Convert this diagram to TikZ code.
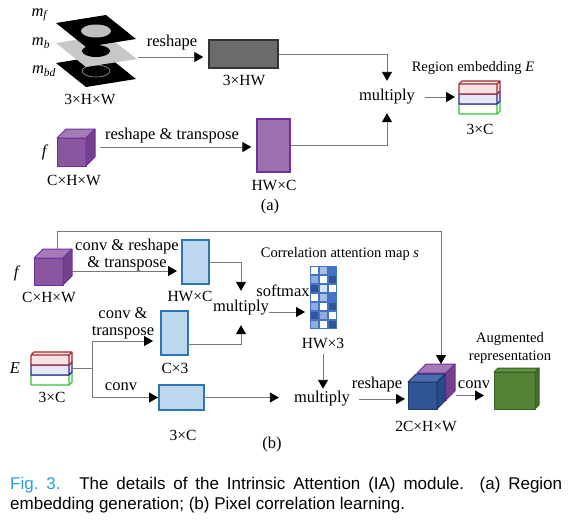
\documentclass[tikz,border=0pt]{standalone}
\usepackage{fontspec}
\setmainfont{Liberation Serif}
\newfontfamily\capfont{Liberation Sans}
\usetikzlibrary{arrows.meta,calc}
\definecolor{lnc}{HTML}{7A7A7A}
\definecolor{capblue}{HTML}{2AA0DF}
\definecolor{pF}{HTML}{8B56A0}\definecolor{pT}{HTML}{A47BB5}\definecolor{pS}{HTML}{74418A}\definecolor{pB}{HTML}{7030A0}
\definecolor{bF}{HTML}{2F5597}\definecolor{bT}{HTML}{4A6DB0}\definecolor{bS}{HTML}{284A85}\definecolor{bB}{HTML}{1F3864}
\definecolor{gF}{HTML}{548235}\definecolor{gT}{HTML}{5E9140}\definecolor{gS}{HTML}{456E2B}\definecolor{gB}{HTML}{3A5F22}
\definecolor{lbF}{HTML}{BDD7EE}\definecolor{lbB}{HTML}{2E75B6}
\definecolor{cW}{HTML}{FFFFFF}\definecolor{cL}{HTML}{DAE3F3}\definecolor{cK}{HTML}{A9BFE6}
\definecolor{cM}{HTML}{8FAADC}\definecolor{cB}{HTML}{4472C4}\definecolor{cD}{HTML}{2F5597}
\definecolor{eR}{HTML}{A5282C}\definecolor{eRf}{HTML}{F6E4E4}
\definecolor{eB}{HTML}{2A2A9E}\definecolor{eBf}{HTML}{E6E6F6}
\definecolor{eG}{HTML}{33C433}
\newcommand\mycube[9]{%
  \filldraw[fill=#6,draw=#9,line width=1pt,line join=round] (#1,#2) rectangle ++(#3,#4);
  \filldraw[fill=#7,draw=#9,line width=1pt,line join=round] (#1,#2) -- ++(#5,-#5) -- ++(#3,0) -- ++(-#5,#5) -- cycle;
  \filldraw[fill=#8,draw=#9,line width=1pt,line join=round] (#1+#3,#2) -- ++(#5,-#5) -- ++(0,#4) -- ++(-#5,#5) -- cycle;}
\newcommand\ebox[5]{%
  \filldraw[fill=#4,draw=#5,line width=1.2pt,line join=round] (#1,#2) -- ++(#3,-#3) -- ++(38,0) -- ++(0,10) -- ++(-#3,#3) -- ++(-38,0) -- cycle;
  \draw[#5,line width=1.2pt,line join=round] (#1,#2) -- ++(38,0) -- ++(0,10) (#1+38,#2) -- ++(#3,-#3);}
\newcommand\ebars[2]{%
  \ebox{#1}{#2+20}{3}{white}{eG}
  \ebox{#1}{#2+10}{3}{eBf}{eB}
  \ebox{#1}{#2}{3}{eRf}{eR}}
\tikzset{
  conn/.style={draw=lnc,line width=0.9pt,-{Triangle[length=9pt,width=10pt,color=black]}},
  plain/.style={draw=lnc,line width=0.9pt},
  op/.style={font=\fontsize{16.5}{17}\selectfont,inner sep=0pt,align=center},
  dim/.style={font=\fontsize{15.5}{17}\selectfont,inner sep=0pt},
  ttl/.style={font=\fontsize{14.5}{18}\selectfont,inner sep=0pt,align=center},
  hole/.style={inner sep=0pt,outer sep=0pt},
  lbbox/.style={draw=lbB,fill=lbF,line width=1.3pt,inner sep=0pt,outer sep=0pt},
}
\begin{document}
\begin{tikzpicture}[x=1pt,y=-1pt]
\useasboundingbox (0,0) rectangle (576,523);
\fill[white] (0,0) rectangle (576,523);

% ---------------- (a) ----------------
% masks
\fill[black] (56,63) -- (106,55) -- (136,79) -- (86,87) -- cycle;
\draw[gray!75,line width=0.6pt] (96,71) ellipse (14 and 6);
\fill[black!22] (56,43) -- (106,35) -- (137,59) -- (86,67) -- cycle;
\fill[black] (96,51) ellipse (14 and 6);
\fill[black] (56,23) -- (106,15) -- (136,39) -- (86,47) -- cycle;
\fill[black!25] (96,31) ellipse (15 and 6.5);
\node[op] at (40,15) {\textit{m}\textsubscript{\textit{f}}};
\node[op] at (41,43) {\textit{m}\textsubscript{\textit{b}}};
\node[op] at (44,71) {\textit{m}\textsubscript{\textit{bd}}};
\node[dim] at (90,99) {3×H×W};
\coordinate (mk) at (138,57);

\node[draw=black!80,fill=black!58,line width=1.5pt,inner sep=0pt,minimum width=69pt,minimum height=28pt] (hw) at (243.5,54) {};
\node[dim] at (244,80) {3×HW};
\node[op] at (172,43) {reshape};
\draw[conn,shorten >=5pt] (mk) -- (mk -| hw.west);

\node[op,minimum height=32pt] (mula) at (387,97) {multiply};
\draw[conn] (hw.east) -| (mula.south |- mula.north);

\node[hole,minimum width=38pt,minimum height=36pt] (fa) at (76,147) {};
\mycube{57}{138}{29}{28}{9}{pF}{pT}{pS}{pB}
\node[op] at (45,152) {\textit{f}};
\node[dim] at (74,180) {C×H×W};
\node[draw=pB,fill=pF!85!white,line width=1.3pt,inner sep=0pt,minimum width=33pt,minimum height=53pt] (hwa) at (273.5,145.5) {};
\node[dim] at (274,185) {HW×C};
\node[op] at (172,136) {reshape \& transpose};
\draw[conn,shorten <=5pt,shorten >=5pt] (fa.east) -- (fa.east -| hwa.west);
\draw[conn] (hwa.east) -| (mula.south);

\node[hole,minimum width=41pt,minimum height=33pt] (emba) at (479.5,97.5) {};
\ebars{459}{84}
\node[ttl] at (473,68) {Region embedding \textit{E}};
\node[dim] at (480,129) {3×C};
\draw[conn,shorten <=10pt,shorten >=4pt] (mula.east) -- (mula.east -| emba.west);
\node[op] at (270,207) {(a)};

% ---------------- (b) ----------------
\node[hole,minimum width=38pt,minimum height=36pt] (fb) at (53,267) {};
\mycube{34}{258}{29}{27}{9}{pF}{pT}{pS}{pB}
\node[op] at (17,273) {\textit{f}};
\node[dim] at (49,297) {C×H×W};

\node[lbbox,minimum width=27pt,minimum height=44pt] (hwb) at (195.5,262) {};
\node[dim] at (190,296) {HW×C};
\coordinate (s1) at ($(fb.east)+(0,4)$);
\draw[conn,shorten >=5pt] (s1) -- (s1 -| hwb.west);
\node[op] at (127,255) {conv \& reshape\\\& transpose};

\node[op,minimum height=34pt] (mb1) at (241,308) {multiply};
\draw[conn] (hwb.east) -| (mb1.north);

\node[lbbox,minimum width=27pt,minimum height=44pt] (c3) at (174.5,333) {};
\node[dim] at (175,368) {C×3};
\coordinate (c3o) at ($(c3.east)+(0,11)$);
\draw[conn] (c3o) -| (mb1.south);

% attention map
\node[hole,minimum width=27pt,minimum height=63pt] (attn) at (323.5,297.5) {};
\fill[cB] (attn.north west) rectangle (attn.south east);
\foreach \row [count=\i] in {{cW,cK,cB},{cM,cW,cD},{cD,cL,cW},{cW,cK,cB},{cM,cW,cD},{cD,cM,cW},{cM,cW,cD}}{
  \foreach \c [count=\j] in \row {
    \fill[\c] (310+9*\j-9+1,266+9*\i-9+1) rectangle ++(7,7);
  }
}
\node[ttl] at (340,254) {Correlation attention map \textit{s}};
\node[dim] (hw3) at (323,343) {HW×3};
\coordinate (sm) at ($(mb1.east)+(0,4)$);
\draw[conn,shorten >=5pt] (sm) -- (sm -| attn.west);
\node[op] at (283,291) {softmax};

% E
\node[hole,minimum width=41pt,minimum height=31pt] (eb) at (51.5,368) {};
\ebars{31}{355}
\node[op] at (15,368) {\textit{E}};
\node[dim] at (52,397) {3×C};
\coordinate (br) at ($(eb.east)+(20,0)$);
\draw[plain] (eb.east) -- (br);
\coordinate (c3i) at ($(c3.west)+(0,8)$);
\draw[conn,shorten >=8pt] (br) |- (c3i);
\node[op] at (123,323) {conv \&\\transpose};

\node[lbbox,minimum width=45pt,minimum height=25pt] (c3b) at (181.5,397.5) {};
\node[dim] at (183,435) {3×C};
\draw[conn,shorten >=1pt] (br) |- (c3b.west);
\node[op] at (121,387) {conv};

\node[op,minimum height=20pt] (mb2) at (322,399) {multiply};
\draw[conn,shorten <=6pt] (hw3.south) -- (hw3.south |- mb2.north);
\draw[conn,shorten >=15pt] (c3b.east) -- (c3b.east -| mb2.west);

% 2C x H x W cube
\node[hole,minimum width=47pt,minimum height=27pt] (cc) at (431.5,395.5) {};
\mycube{417}{373}{29}{27}{9}{pF}{pT}{pS}{pB}
\mycube{408}{382}{29}{27}{8}{bF}{bT}{bS}{bB}
\coordinate (ccin) at (441,364);
\coordinate (fbt) at (57,249);
\draw[conn] (fbt) -- ++(0,-18) -| (ccin);
\draw[conn,shorten <=9pt,shorten >=3pt] (mb2.east) -- (mb2.east -| cc.west);
\node[op] at (377,385) {reshape};
\node[dim] at (426,426) {2C×H×W};

\node[hole,minimum width=45pt,minimum height=41pt] (gc) at (516.5,388.5) {};
\mycube{494}{372}{41}{37}{4}{gF}{gT}{gS}{gB}
\draw[conn,shorten <=1pt,shorten >=10pt] (cc.east) -- (cc.east -| gc.west);
\node[op] at (474,385) {conv};
\node[ttl] at (510,348) {Augmented\\representation};
\node[op] at (272,445) {(b)};

% caption
\node[anchor=north west,text width=552pt,inner sep=0pt,align=justify,
      font=\capfont\fontsize{17}{20}\selectfont] (cap) at (10,477)
  {\textcolor{capblue}{Fig.~3.}\hspace{1.1em}The details of the Intrinsic Attention (IA) module. (a) Region\linebreak embedding generation; (b) Pixel correlation learning.};
\end{tikzpicture}
\end{document}
